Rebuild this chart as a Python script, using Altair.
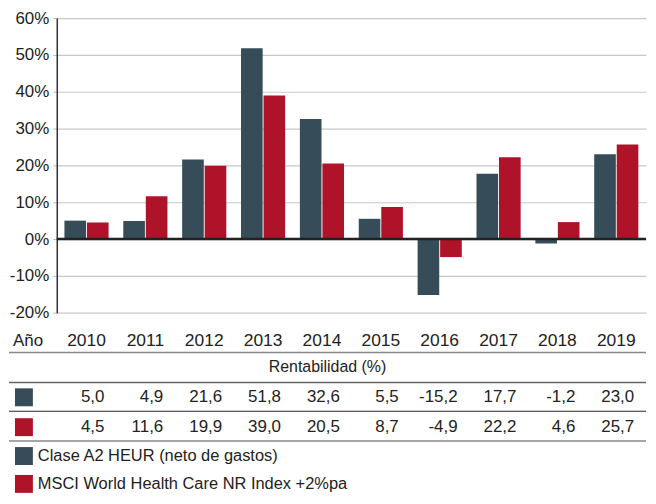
import altair as alt
import pandas as pd

years = ["2010", "2011", "2012", "2013", "2014", "2015", "2016", "2017", "2018", "2019"]
clase = [5.0, 4.9, 21.6, 51.8, 32.6, 5.5, -15.2, 17.7, -1.2, 23.0]
msci = [4.5, 11.6, 19.9, 39.0, 20.5, 8.7, -4.9, 22.2, 4.6, 25.7]
series_names = ["Clase A2 HEUR (neto de gastos)", "MSCI World Health Care NR Index +2%pa"]
colors = ["#364c59", "#ae1329"]
y_ticks = [-20, -10, 0, 10, 20, 30, 40, 50, 60]

rows = []
for i, y in enumerate(years):
    for s, vals in zip(series_names, [clase, msci]):
        v = vals[i]
        rows.append({"year": y, "series": s, "value": v,
                     "label": f"{v:.1f}".replace(".", ",")})
df = pd.DataFrame(rows)

W, H = 592, 296
FONT = "Liberation Sans"
xs = alt.Scale(domain=years, paddingInner=0.25, paddingOuter=0.13)
cs = alt.Scale(domain=series_names, range=colors)
ys = alt.Scale(domain=[-20, 60], nice=False)
yaxis = alt.Axis(values=y_ticks, labelExpr="datum.value + '%'", title=None,
                 labelFontSize=17, labelFont=FONT, labelColor="#222",
                 labelPadding=4, tickSize=4, tickColor="#bbb",
                 gridColor="#c8c8c8", gridWidth=1.2,
                 domainColor="#333", domainWidth=1.5)

base = alt.Chart(df)

bars = base.mark_bar().encode(
    x=alt.X("year:N", scale=xs, axis=None),
    xOffset=alt.XOffset("series:N", scale=alt.Scale(domain=series_names, paddingInner=0.04)),
    y=alt.Y("value:Q", scale=ys, axis=yaxis),
    color=alt.Color("series:N", scale=cs, legend=None),
)

zero = alt.Chart(pd.DataFrame({"value": [0]})).mark_rule(color="#222", strokeWidth=2.5).encode(
    y=alt.Y("value:Q", scale=ys, axis=yaxis))

def txt(y, text, x, align="left", size=16.5):
    return alt.Chart(pd.DataFrame({"t": [text]})).mark_text(
        align=align, baseline="middle", fontSize=size, font=FONT, color="#222").encode(
        x=alt.value(x), y=alt.value(y), text="t:N")

def hline(y, color, w):
    return alt.Chart(pd.DataFrame({"a": [0]})).mark_rule(color=color, strokeWidth=w).encode(
        x=alt.value(-48), x2=alt.value(W), y=alt.value(y))

def square(y, color):
    return alt.Chart(pd.DataFrame({"a": [0]})).mark_square(size=324, color=color, opacity=1).encode(
        x=alt.value(-33), y=alt.value(y))

year_labels = alt.Chart(pd.DataFrame({"year": years})).mark_text(
    baseline="middle", fontSize=17.5, font=FONT, color="#222").encode(
    x=alt.X("year:N", scale=xs, axis=None), y=alt.value(H + 28), text="year:N")

def row(series, y):
    return base.transform_filter(alt.datum.series == series).mark_text(
        align="right", baseline="middle", fontSize=17, font=FONT, color="#222", dx=18).encode(
        x=alt.X("year:N", scale=xs, axis=None), y=alt.value(y), text="label:N")

layers = [
    bars, zero, year_labels,
    txt(H + 28, "Año", -44, size=17),
    hline(H + 40, "#888", 1.5),
    txt(H + 55, "Rentabilidad (%)", 272, align="center", size=16),
    hline(H + 70, "#666", 1.5),
    square(H + 85, colors[0]), row(series_names[0], H + 85),
    hline(H + 99, "#222", 1),
    square(H + 115, colors[1]), row(series_names[1], H + 115),
    hline(H + 129, "#888", 1.5),
    square(H + 144, colors[0]), txt(H + 144, series_names[0], -19),
    square(H + 172, colors[1]), txt(H + 172, series_names[1], -19),
]

chart = alt.layer(*layers).properties(width=W, height=H, padding=0).configure_view(
    stroke=None)

chart.save("out.html", embed_options={"renderer": "svg", "actions": False})
